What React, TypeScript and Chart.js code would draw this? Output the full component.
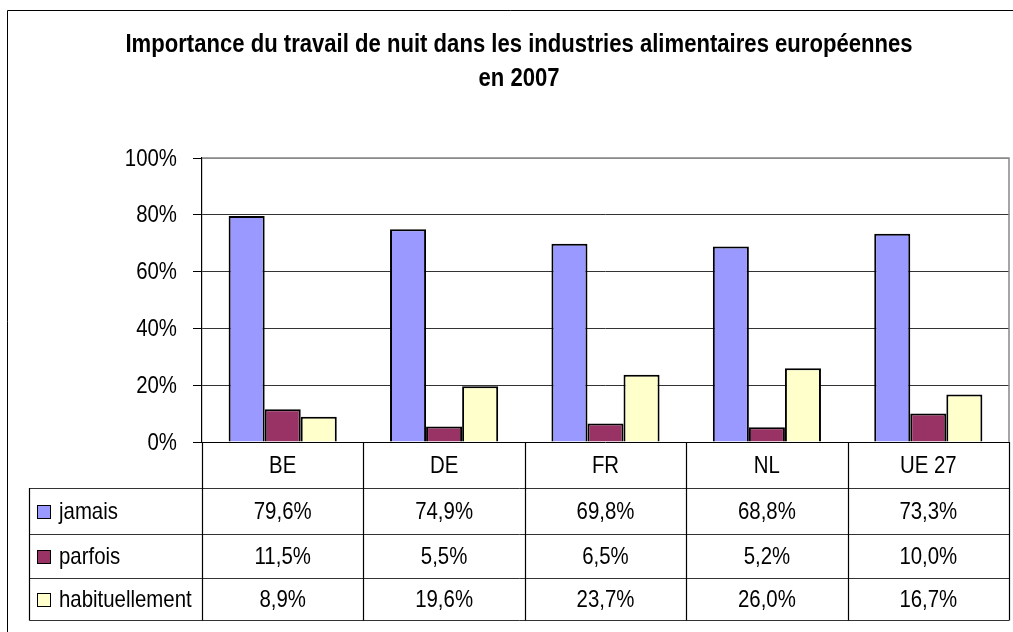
import React, { useEffect, useRef } from "react";
import { Chart, registerables } from "chart.js";

Chart.register(...registerables);

const categories = ["BE", "DE", "FR", "NL", "UE 27"];
const seriesNames = ["jamais", "parfois", "habituellement"];
const jamais = [79.6, 74.9, 69.8, 68.8, 73.3];
const parfois = [11.5, 5.5, 6.5, 5.2, 10.0];
const habituellement = [8.9, 19.6, 23.7, 26.0, 16.7];
const seriesColors = ["#9999FF", "#993366", "#FFFFCC"];
const titleLines = [
  "Importance du travail de nuit dans les industries alimentaires européennes",
  "en 2007",
];
const yTicks = [0, 20, 40, 60, 80, 100];

const FONT = "'Liberation Sans', Arial, sans-serif";
const SQUEEZE = 0.85;

const fmt = (v: number) => v.toFixed(1).replace(".", ",") + "%";

function narrowText(
  ctx: CanvasRenderingContext2D,
  text: string,
  x: number,
  y: number,
  align: CanvasTextAlign
) {
  ctx.save();
  ctx.translate(x, y);
  ctx.scale(SQUEEZE, 1);
  ctx.textAlign = align;
  ctx.fillText(text, 0, 0);
  ctx.restore();
}

const tablePlugin = {
  id: "dataTable",
  afterDraw(chart: any) {
    const ctx = chart.ctx as CanvasRenderingContext2D;
    const area = chart.chartArea;
    const xs = chart.scales.x;
    const ys = chart.scales.y;
    const allSeries = [jamais, parfois, habituellement];
    ctx.save();

    // outer frame
    ctx.strokeStyle = "#000";
    ctx.lineWidth = 1;
    ctx.beginPath();
    ctx.moveTo(7.5, 640);
    ctx.lineTo(7.5, 10.5);
    ctx.lineTo(1020, 10.5);
    ctx.stroke();

    // title
    ctx.fillStyle = "#000";
    ctx.font = `bold 26px ${FONT}`;
    ctx.textBaseline = "alphabetic";
    narrowText(ctx, titleLines[0], 519, 52, "center");
    narrowText(ctx, titleLines[1], 519, 86, "center");

    // y tick labels
    ctx.font = `24px ${FONT}`;
    ctx.textBaseline = "middle";
    yTicks.forEach((v) => {
      narrowText(ctx, v + "%", area.left - 25, ys.getPixelForValue(v) + 1, "right");
    });

    // plot border top/right (gray)
    ctx.strokeStyle = "#888";
    ctx.lineWidth = 1.5;
    ctx.beginPath();
    ctx.moveTo(area.left, area.top);
    ctx.lineTo(area.right, area.top);
    ctx.lineTo(area.right, area.bottom);
    ctx.stroke();

    // table geometry
    const n = categories.length;
    const colW = (area.right - area.left) / n;
    const headerTop = area.bottom;
    const rowTops = [488, 534, 578];
    const tableBottom = 620;
    const tableLeft = 29.5;

    // horizontal lines
    ctx.strokeStyle = "#333";
    ctx.lineWidth = 1;
    ctx.beginPath();
    for (const y of [...rowTops, tableBottom]) {
      ctx.moveTo(tableLeft, y + 0.5);
      ctx.lineTo(area.right, y + 0.5);
    }
    ctx.stroke();

    // vertical lines
    ctx.strokeStyle = "#000";
    ctx.lineWidth = 1.2;
    ctx.beginPath();
    for (let i = 0; i <= n; i++) {
      const x = Math.round(area.left + i * colW) + 0.5;
      ctx.moveTo(x, headerTop);
      ctx.lineTo(x, tableBottom + 0.5);
    }
    ctx.moveTo(tableLeft, rowTops[0]);
    ctx.lineTo(tableLeft, tableBottom + 0.5);
    ctx.stroke();

    // header labels
    ctx.font = `24px ${FONT}`;
    ctx.textBaseline = "middle";
    ctx.fillStyle = "#000";
    categories.forEach((c, i) => {
      narrowText(ctx, c, xs.getPixelForValue(i), (headerTop + rowTops[0]) / 2 + 1, "center");
    });

    // rows
    const bounds = [...rowTops, tableBottom];
    allSeries.forEach((vals, r) => {
      const cy = (bounds[r] + bounds[r + 1]) / 2 + 1;
      // legend key
      ctx.fillStyle = seriesColors[r];
      ctx.fillRect(37, cy - 7, 13, 13);
      ctx.strokeStyle = "#000";
      ctx.lineWidth = 1;
      ctx.strokeRect(37.5, cy - 6.5, 13, 13);
      ctx.fillStyle = "#000";
      narrowText(ctx, seriesNames[r], 59, cy, "left");
      vals.forEach((v, i) => {
        narrowText(ctx, fmt(v), xs.getPixelForValue(i), cy, "center");
      });
    });

    ctx.restore();
  },
};

export default function App() {
  const ref = useRef<HTMLCanvasElement | null>(null);
  useEffect(() => {
    if (!ref.current) return;
    const chart = new Chart(ref.current, {
      type: "bar",
      data: {
        labels: categories,
        datasets: [jamais, parfois, habituellement].map((d, i) => ({
          label: seriesNames[i],
          data: d,
          backgroundColor: seriesColors[i],
          borderColor: "#000",
          borderWidth: 2,
          borderSkipped: "bottom" as const,
          categoryPercentage: 0.67,
          barPercentage: 1,
        })),
      },
      options: {
        responsive: false,
        animation: false,
        layout: { padding: { left: 0, top: 158, right: 4, bottom: 190 } },
        plugins: {
          legend: { display: false },
          title: { display: false },
          tooltip: { enabled: false },
        },
        scales: {
          x: {
            display: false,
            offset: true,
            grid: { display: false },
          },
          y: {
            min: 0,
            max: 100,
            afterFit: (s: any) => {
              s.width = 202;
            },
            afterBuildTicks: (s: any) => {
              s.ticks = yTicks.map((v) => ({ value: v }));
            },
            border: { display: true, color: "#000", width: 1.2 },
            grid: {
              color: (c: any) =>
                c.tick && c.tick.value === 100 ? "#888" : c.tick && c.tick.value === 0 ? "#000" : "#333",
              lineWidth: 1,
              tickLength: 9,
              tickColor: "#000",
            },
            ticks: {
              display: false,
            },
          },
        },
      },
      plugins: [tablePlugin],
    });
    return () => chart.destroy();
  }, []);
  return (
    <div style={{ position: "fixed", left: 0, top: 0, width: 1013, height: 632, background: "#fff" }}>
      <canvas ref={ref} width={1013} height={632} style={{ display: "block" }} />
    </div>
  );
}
